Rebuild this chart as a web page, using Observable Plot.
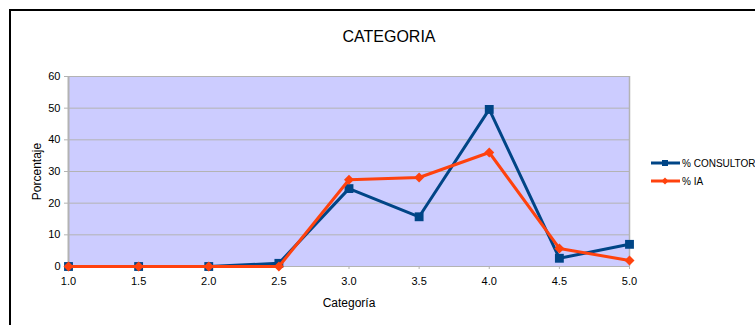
<!DOCTYPE html>
<html>
<head>
<meta charset="utf-8">
<script src="https://cdn.jsdelivr.net/npm/d3@7"></script>
<script src="https://cdn.jsdelivr.net/npm/@observablehq/plot@0.6"></script>
<style>
  html, body { margin: 0; padding: 0; background: #fff; overflow: hidden; }
  #wrap { position: relative; width: 755px; height: 325px; overflow: hidden; font-family: "Liberation Sans", Arial, sans-serif; }
  #border { position: absolute; left: 9px; top: 9px; width: 900px; height: 500px; border-left: 2px solid #000; border-top: 2px solid #000; }
  #title { position: absolute; left: 0; width: 778px; top: 28px; text-align: center; font-size: 16px; color: #000; }
  #legend { position: absolute; left: 651px; top: 154px; font-size: 10px; color: #000; }
  .row { display: flex; align-items: center; height: 18px; white-space: nowrap; }
  .row svg { margin-right: 2px; }
  #chart { position: absolute; left: 0; top: 0; }
  #chart g[aria-label="x-axis label"] text, #chart g[aria-label="y-axis label"] text { font-size: 12px; }
</style>
</head>
<body>
<div id="wrap">
  <div id="border"></div>
  <div id="chart"></div>
  <div id="title"></div>
  <div id="legend"></div>
</div>
<script>
// Category scores and the percentage of each source
const categorias = [1.0, 1.5, 2.0, 2.5, 3.0, 3.5, 4.0, 4.5, 5.0];
const consultor = [0, 0, 0, 1.0, 24.6, 15.7, 49.6, 2.6, 7.0];
const ia = [0, 0, 0, 0, 27.4, 28.1, 36.0, 5.7, 1.9];
const xTicks = [1.0, 1.5, 2.0, 2.5, 3.0, 3.5, 4.0, 4.5, 5.0];
const yTicks = [0, 10, 20, 30, 40, 50, 60];
const seriesNames = ["% CONSULTOR", "% IA"];
const seriesColors = ["#004586", "#ff420e"];
const titleText = "CATEGORIA";

const rowsC = categorias.map((c, i) => ({x: c, y: consultor[i]}));
const rowsI = categorias.map((c, i) => ({x: c, y: ia[i]}));

const chart = Plot.plot({
  width: 755,
  height: 325,
  marginLeft: 68,
  marginRight: 126,
  marginTop: 76,
  marginBottom: 59,
  style: {fontFamily: "'Liberation Sans', Arial, sans-serif", fontSize: "11px", background: "transparent", color: "#000", overflow: "visible"},
  x: {domain: [1, 5]},
  y: {domain: [0, 60]},
  marks: [
    Plot.frame({fill: "#ccccff", stroke: null}),
    Plot.gridY(yTicks, {stroke: "#b3b3b3", strokeOpacity: 1, strokeWidth: 1}),
    Plot.ruleX([5], {stroke: "#b3b3b3", strokeWidth: 1.5}),
    Plot.ruleX([1], {stroke: "#b3b3b3", strokeWidth: 2}),
    Plot.axisX({ticks: xTicks, tickFormat: d => d.toFixed(1), tickSize: 3, tickPadding: 8, stroke: "#b3b3b3",
      label: "Categoría", labelAnchor: "center", labelArrow: "none", labelOffset: 40, fontSize: 11}),
    Plot.axisY({ticks: yTicks, tickSize: 4, tickPadding: 4, stroke: "#b3b3b3",
      label: "Porcentaje", labelAnchor: "center", labelArrow: "none", labelOffset: 36, fontSize: 11}),
    Plot.line(rowsC, {x: "x", y: "y", stroke: seriesColors[0], strokeWidth: 3}),
    Plot.dot(rowsC, {x: "x", y: "y", symbol: "square", r: 5, fill: seriesColors[0], stroke: "none"}),
    Plot.line(rowsI, {x: "x", y: "y", stroke: seriesColors[1], strokeWidth: 3}),
    Plot.dot(rowsI, {x: "x", y: "y", symbol: "diamond2", r: 4.5, fill: seriesColors[1], stroke: "none"})
  ]
});
document.getElementById("chart").appendChild(chart);
document.getElementById("title").textContent = titleText;

// legend entries with a short line and the series marker
const legend = document.getElementById("legend");
seriesNames.forEach((name, i) => {
  const row = document.createElement("div");
  row.className = "row";
  const col = seriesColors[i];
  const marker = i === 0
    ? `<rect x="11" y="2" width="6" height="6" fill="${col}"/>`
    : `<path d="M14,1.5L17.5,5L14,8.5L10.5,5Z" fill="${col}"/>`;
  row.innerHTML = `<svg width="29" height="10"><line x1="0" x2="29" y1="5" y2="5" stroke="${col}" stroke-width="3"/>${marker}</svg><span>${name}</span>`;
  legend.appendChild(row);
});
</script>
</body>
</html>
